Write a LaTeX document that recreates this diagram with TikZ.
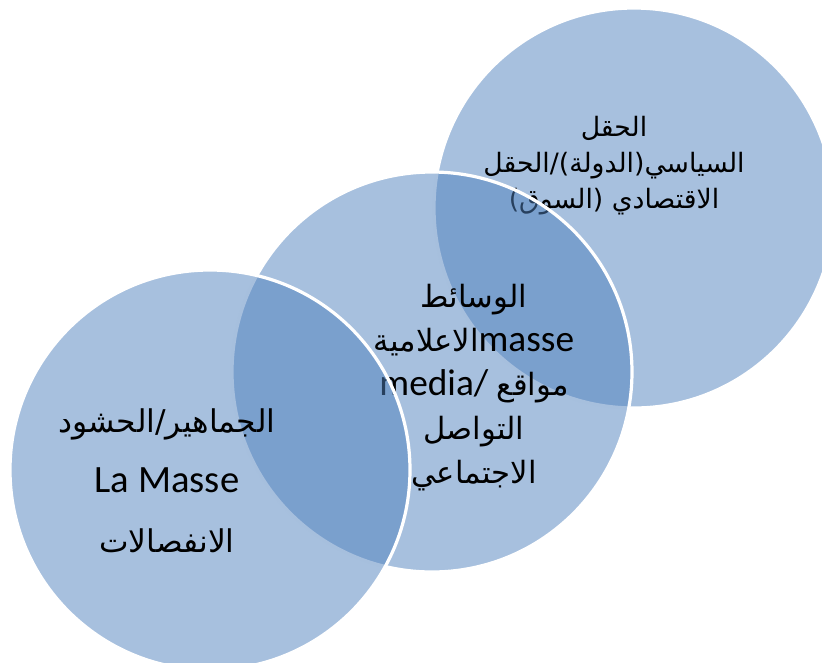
\documentclass[tikz,border=0pt]{standalone}
\usepackage{fontspec}
\setmainfont{Carlito}
\newfontfamily\arabicfont[Script=Arabic]{DejaVu Sans}
\TeXXeTstate=1
\newcommand{\artext}[1]{{\arabicfont\beginR#1\endR}}
\definecolor{bubbleblue}{RGB}{79,129,189}

\begin{document}
\begin{tikzpicture}[x=0.75pt, y=-0.75pt,
  bubble/.style={circle, minimum size=300pt, inner sep=0pt, outer sep=0pt,
    fill=bubbleblue, fill opacity=0.5, draw=white, draw opacity=1, line width=2.4pt},
  caption/.style={align=center, text=black, inner sep=0pt}]

\useasboundingbox (0,0) rectangle (822,662);

% political / economic field
\node[bubble] (field) at (634,208) {};
\node[caption, font=\fontsize{20}{27}\selectfont] (fieldtext) at (614,166)
  {\artext{الحقل}\\ \artext{السياسي(الدولة)/الحقل}\\ \artext{الاقتصادي (السوق)}};

% media
\node[bubble] (media) at (432,372) {};
\node[caption, font=\fontsize{28}{33}\selectfont] (mediatext) at (474,388)
  {\artext{\fontsize{23}{33}\selectfont الوسائط}\\
   \artext{\fontsize{23}{33}\selectfont الاعلامية}masse\\
   media/ \artext{\fontsize{23}{33}\selectfont مواقع}\\
   \artext{\fontsize{23}{33}\selectfont التواصل}\\
   \artext{\fontsize{23}{33}\selectfont الاجتماعي}};

% masses
\node[bubble] (masses) at (210,470) {};
\node[caption, font=\fontsize{29}{45}\selectfont] (massestext) at (167,481)
  {\artext{\fontsize{23.5}{45}\selectfont الجماهير/الحشود}\\
   La Masse\\
   \artext{\fontsize{23.5}{45}\selectfont الانفصالات}};

\end{tikzpicture}
\end{document}
